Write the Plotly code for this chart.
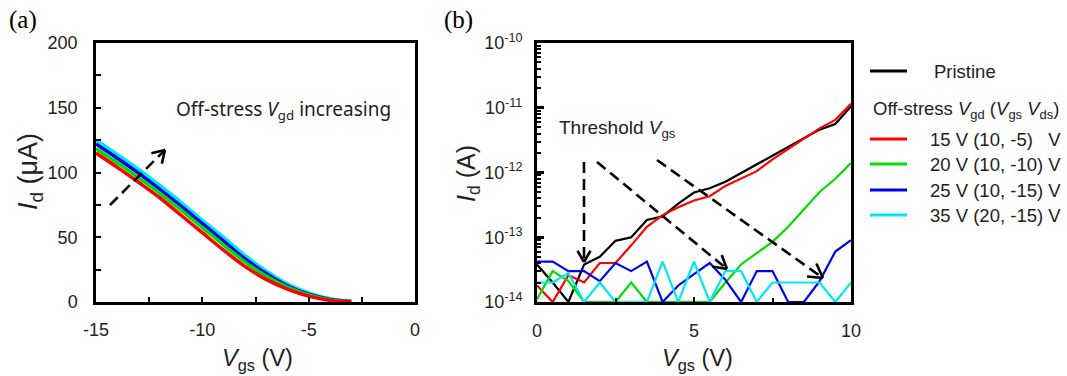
import math
import plotly.graph_objects as go

W, H = 1067, 376

# ---------------- Data: panel (a) ----------------
vgs_a = [-15, -14, -13, -12, -11, -10, -9, -8, -7, -6, -5, -4, -3]
id_a_15 = [115, 104, 92.5, 80.5, 67, 53.5, 40, 27.5, 17.5, 10, 4.5, 1.2, 0.2]
id_a_20 = [118.5, 107.5, 96, 84, 71, 57.5, 44, 31, 20, 11.5, 5.5, 1.6, 0.3]
id_a_25 = [122, 111, 99.5, 87, 74, 60.5, 47, 33.5, 22, 12.5, 6, 2, 0.4]
id_a_35 = [125, 114, 102.5, 90, 77, 63, 50, 36, 24, 14, 7, 2.5, 0.5]

x_ticks_a = [-15, -10, -5, 0]
x_ticktext_a = ["-15", "-10", "-5", "0"]
y_ticks_a = [0, 50, 100, 150, 200]

# ---------------- Data: panel (b) ----------------
vgs_b = [0, 0.5, 1, 1.5, 2, 2.5, 3, 3.5, 4, 4.5, 5, 5.5, 6, 6.5, 7, 7.5, 8, 8.5, 9, 9.5, 10]
id_b_pristine = [3.8e-14, 2.0e-14, 1.0e-14, 3.8e-14, 5.0e-14, 8.8e-14, 1.0e-13, 1.85e-13, 2.1e-13, 3.3e-13,
                 4.9e-13, 5.7e-13, 7.2e-13, 9.8e-13, 1.35e-12, 1.8e-12, 2.5e-12, 3.4e-12, 4.6e-12, 5.6e-12, 1.05e-11]
id_b_15 = [1.8e-14, 1.0e-14, 2.6e-14, 2.0e-14, 4.0e-14, 4.0e-14, 7.5e-14, 1.45e-13, 2.2e-13, 2.9e-13,
           3.7e-13, 4.3e-13, 6.2e-13, 8.0e-13, 1.05e-12, 1.6e-12, 2.3e-12, 3.4e-12, 4.8e-12, 6.5e-12, 1.15e-11]
id_b_20 = [1.1e-14, 3.0e-14, 2.1e-14, 1.0e-14, 1.0e-14, 1.0e-14, 2.0e-14, 1.0e-14, 1.0e-14, 1.0e-14,
           1.0e-14, 1.0e-14, 2.0e-14, 3.8e-14, 5.7e-14, 8.5e-14, 1.45e-13, 2.7e-13, 5.0e-13, 8.0e-13, 1.4e-12]
id_b_25 = [4.2e-14, 4.2e-14, 3.0e-14, 3.0e-14, 2.1e-14, 4.0e-14, 3.0e-14, 4.2e-14, 1.0e-14, 1.8e-14,
           2.7e-14, 4.0e-14, 2.2e-14, 1.0e-14, 3.0e-14, 3.0e-14, 1.0e-14, 1.0e-14, 2.1e-14, 6.0e-14, 9.0e-14]
id_b_35 = [2.0e-14, 2.0e-14, 2.8e-14, 1.0e-14, 2.0e-14, 1.0e-14, 1.0e-14, 1.0e-14, 4.2e-14, 1.0e-14,
           4.2e-14, 1.0e-14, 3.0e-14, 3.0e-14, 1.0e-14, 2.0e-14, 2.0e-14, 2.0e-14, 2.0e-14, 1.0e-14, 2.0e-14]

x_ticks_b = [0, 5, 10]
y_ticks_b = [1e-14, 1e-13, 1e-12, 1e-11, 1e-10]
y_ticktext_b = ["10<sup>-14</sup>", "10<sup>-13</sup>", "10<sup>-12</sup>", "10<sup>-11</sup>", "10<sup>-10</sup>"]

series_names = ["Pristine", "15 V (10, -5)&nbsp;&nbsp;&nbsp;V", "20 V (10, -10) V", "25 V (10, -15) V", "35 V (20, -15) V"]
colors = ["#000000", "#FF0000", "#00DD00", "#0000EE", "#00E8F0"]

# ---------------- helpers ----------------
def px(x):
    return x / W

def py(y):
    return 1 - y / H

FONT = "Liberation Sans, Arial, sans-serif"

fig = go.Figure()

# panel (a) traces (top series first, red last)
for yvals, c in [(id_a_35, colors[4]), (id_a_25, colors[3]), (id_a_20, colors[2]), (id_a_15, colors[1])]:
    fig.add_trace(go.Scatter(x=vgs_a, y=yvals, mode="lines", line=dict(color=c, width=3.5, shape="spline"),
                             xaxis="x", yaxis="y", showlegend=False, hoverinfo="skip"))

# panel (b) traces
for yvals, c in zip([id_b_pristine, id_b_15, id_b_20, id_b_25, id_b_35], colors):
    fig.add_trace(go.Scatter(x=vgs_b, y=yvals, mode="lines", line=dict(color=c, width=2.2),
                             xaxis="x2", yaxis="y2", showlegend=False, hoverinfo="skip"))

ydom = [py(302), py(43)]
axis_common = dict(showgrid=False, zeroline=False, showline=True, linecolor="black", mirror=True,
                   automargin=False, ticks="inside", tickcolor="black",
                   tickfont=dict(family=FONT, size=18, color="#222"))

fig.update_layout(
    template="none",
    width=W, height=H, margin=dict(l=0, r=0, t=0, b=0, autoexpand=False),
    paper_bgcolor="white", plot_bgcolor="white",
    xaxis=dict(domain=[px(96), px(415)], range=[-15, 0], tickvals=x_ticks_a, ticktext=x_ticktext_a,
               ticklen=5, tickwidth=2, linewidth=2.5,
               minor=dict(ticks="inside", dtick=2.5, ticklen=5, tickwidth=2, tickcolor="black"),
               ticklabelstandoff=10, anchor="y", **axis_common),
    yaxis=dict(domain=ydom, range=[0, 200], tickvals=y_ticks_a, ticklen=5, tickwidth=2,
               linewidth=2.5, minor=dict(ticks="inside", dtick=25, ticklen=5, tickwidth=2, tickcolor="black"),
               ticklabelstandoff=12, anchor="x", **axis_common),
    xaxis2=dict(domain=[px(537), px(851)], range=[0, 10], tickvals=x_ticks_b, ticklen=5, tickwidth=2,
                linewidth=3, minor=dict(ticks="inside", dtick=2.5, ticklen=4, tickwidth=2, tickcolor="black"),
                ticklabelstandoff=10, anchor="y2", **axis_common),
    yaxis2=dict(domain=ydom, type="log", range=[-14, -10], tickvals=y_ticks_b, ticktext=y_ticktext_b,
                ticklen=7, tickwidth=3, linewidth=3,
                minor=dict(ticks="inside", ticklen=4, tickwidth=2, tickcolor="black", dtick="D1"),
                ticklabelstandoff=8, anchor="x2", **axis_common),
)

annotations = []
shapes = []

def text(x, y, s, size=18, family=FONT, xanchor="left", yanchor="middle", angle=0, color="#222"):
    annotations.append(dict(x=px(x), y=py(y), xref="paper", yref="paper", text=s, showarrow=False,
                            xanchor=xanchor, yanchor=yanchor, textangle=angle,
                            font=dict(family=family, size=size, color=color)))

def seg(x0, y0, x1, y1, width=2.5, dash="solid", color="black"):
    shapes.append(dict(type="line", xref="paper", yref="paper", x0=px(x0), y0=py(y0), x1=px(x1), y1=py(y1),
                       line=dict(color=color, width=width, dash=dash)))

def arrow(x0, y0, x1, y1, head=14, ang=32):
    seg(x0, y0, x1, y1, width=2.6, dash="11px,6px")
    th = math.atan2(y0 - y1, x0 - x1)
    for s in (-1, 1):
        a = th + s * math.radians(ang)
        seg(x1, y1, x1 + head * math.cos(a), y1 + head * math.sin(a), width=2.6)

# panel labels
text(7, 20, "(a)", size=25, family="Liberation Serif, Times New Roman, serif", color="black")
text(442, 20, "(b)", size=25, family="Liberation Serif, Times New Roman, serif", color="black")

# axis titles
text(257, 359, "<i>V</i><sub>gs</sub> (V)", size=23.5, xanchor="center")
text(697, 359, "<i>V</i><sub>gs</sub> (V)", size=23.5, xanchor="center")
text(30, 172, "<i>I</i><sub>d</sub> (μA)", size=27, xanchor="center", angle=-90)
text(468, 174, "<i>I</i><sub>d</sub> (A)", size=25, xanchor="center", angle=-90)

# in-plot texts
text(174, 110, "Off-stress <i>V</i><sub>gd</sub> increasing", size=19, family="Noto Sans, sans-serif")
text(557, 129, "Threshold <i>V</i><sub>gs</sub>", size=19)

# arrows
arrow(110, 205, 165, 150)
arrow(584, 162, 584, 262, head=13, ang=30)
arrow(597, 162, 727, 269, head=15, ang=30)
arrow(657, 160, 823, 278, head=16, ang=30)

# legend
leg_y = [71, 139, 164, 190, 215]
for i, (name, c) in enumerate(zip(series_names, colors)):
    seg(870, leg_y[i], 907, leg_y[i], width=3, color=c)
    text(932 if i == 0 else 928, leg_y[i], name, size=18.5)
text(871, 110, "Off-stress <i>V</i><sub>gd</sub> (<i>V</i><sub>gs</sub> <i>V</i><sub>ds</sub>)", size=18.5)

fig.update_layout(annotations=annotations, shapes=shapes)

fig.write_html("out.html", config={"displayModeBar": False},
               post_script="document.body.style.margin='0';document.body.style.overflow='hidden';")
